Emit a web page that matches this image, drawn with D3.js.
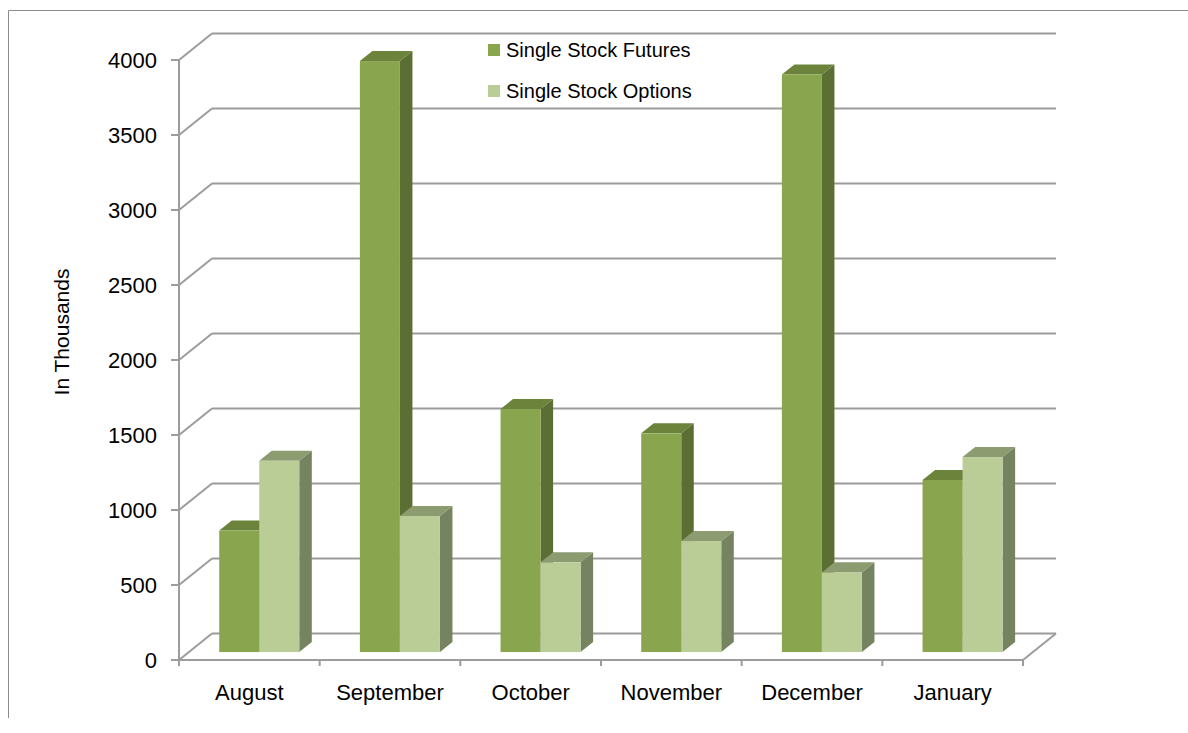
<!DOCTYPE html>
<meta charset="utf-8">
<style>
body { margin: 0; background: #fff; }
text { font-family: "Liberation Sans", Arial, sans-serif; fill: #000; }
.grid line { stroke: #9c9c9c; stroke-width: 2px; }
</style>
<svg width="1188" height="733"></svg>
<script src="https://d3js.org/d3.v7.min.js"></script>
<script>
var months = ["August", "September", "October", "November", "December", "January"];
var futures = [810, 3940, 1620, 1458, 3850, 1147];
var options = [1275, 907, 598, 740, 531, 1300];
var yTicks = [0, 500, 1000, 1500, 2000, 2500, 3000, 3500, 4000];

var svg = d3.select("svg");

// depth offset of the 3d box
var DX = 33, DY = -26.5;
var t1 = 0.3, t2 = 0.68;

var x = d3.scaleBand()
    .domain(months)
    .range([179, 1023])
    .paddingInner(0.431)
    .paddingOuter(0.2155);

var x1 = d3.scaleBand()
    .domain(["futures", "options"])
    .range([0, x.bandwidth()]);

var y = d3.scaleLinear()
    .domain([0, 4000])
    .range([660, 60]);

var colors = {
  futures: { front: "#89a54e", side: "#5b6e33", top: "#6b833b" },
  options: { front: "#bbcd97", side: "#768360", top: "#8d9b70" }
};

// outer frame
svg.append("path")
    .attr("d", "M8.5,718V10.5H1188")
    .attr("fill", "none")
    .attr("stroke", "#8c8c8c")
    .attr("stroke-width", 1);

var grid = svg.append("g").attr("class", "grid");

// back wall lines + side wall diagonals
yTicks.forEach(function(v) {
  var yy = y(v);
  grid.append("line")
      .attr("x1", 179).attr("y1", yy)
      .attr("x2", 179 + DX).attr("y2", yy + DY);
  grid.append("line")
      .attr("x1", 179 + DX).attr("y1", yy + DY)
      .attr("x2", 1023 + DX).attr("y2", yy + DY);
  grid.append("line")
      .attr("x1", 171).attr("y1", yy)
      .attr("x2", 179).attr("y2", yy);
});

// left axis
grid.append("line")
    .attr("x1", 179).attr("y1", y(4000))
    .attr("x2", 179).attr("y2", y(0) + 2);

// floor front edge + right edge
grid.append("line")
    .attr("x1", 179).attr("y1", y(0))
    .attr("x2", 1023).attr("y2", y(0));
grid.append("line")
    .attr("x1", 1023).attr("y1", y(0))
    .attr("x2", 1023 + DX).attr("y2", y(0) + DY);

// category ticks
d3.range(months.length + 1).forEach(function(i) {
  var xx = i < months.length ? x(months[i]) - x.step() * x.paddingInner() / 2 : 1023;
  if (i === 0) xx = 179;
  grid.append("line")
      .attr("x1", xx).attr("y1", y(0))
      .attr("x2", xx).attr("y2", y(0) + 6);
});

// y labels
svg.append("g").selectAll("text")
  .data(yTicks)
  .enter().append("text")
    .attr("x", 157)
    .attr("y", function(d) { return y(d) + 8; })
    .attr("text-anchor", "end")
    .style("font-size", "22px")
    .text(function(d) { return d; });

// category labels
svg.append("g").selectAll("text")
  .data(months)
  .enter().append("text")
    .attr("x", function(d) { return x(d) + x.bandwidth() / 2; })
    .attr("y", 700)
    .attr("text-anchor", "middle")
    .style("font-size", "22px")
    .text(function(d) { return d; });

svg.append("text")
    .attr("transform", "translate(69,332) rotate(-90)")
    .attr("text-anchor", "middle")
    .style("font-size", "21px")
    .text("In Thousands");

// bars
var bars = [];
months.forEach(function(m, i) {
  bars.push({ month: m, key: "futures", value: futures[i] });
  bars.push({ month: m, key: "options", value: options[i] });
});

function pt(px, py, t) { return [px + t * DX, py + t * DY]; }

var g = svg.append("g");
bars.forEach(function(d) {
  var xa = x(d.month) + x1(d.key),
      xb = xa + x1.bandwidth(),
      yt = y(d.value),
      yb = y(0),
      c = colors[d.key];
  var line = d3.line();

  g.append("path")
      .attr("d", line([pt(xb, yt, t1), pt(xb, yt, t2), pt(xb, yb, t2), pt(xb, yb, t1)]) + "Z")
      .attr("fill", c.side);
  g.append("path")
      .attr("d", line([pt(xa, yt, t1), pt(xb, yt, t1), pt(xb, yt, t2), pt(xa, yt, t2)]) + "Z")
      .attr("fill", c.top);
  var f = pt(xa, yt, t1);
  g.append("rect")
      .attr("x", f[0]).attr("y", f[1])
      .attr("width", xb - xa)
      .attr("height", yb - yt)
      .attr("fill", c.front);
});

// legend
var legend = svg.append("g");
[["Single Stock Futures", "futures"], ["Single Stock Options", "options"]].forEach(function(l, i) {
  legend.append("rect")
      .attr("x", 488).attr("y", 44 + i * 41)
      .attr("width", 12).attr("height", 12)
      .attr("fill", colors[l[1]].front);
  legend.append("text")
      .attr("x", 506).attr("y", 57 + i * 41)
      .style("font-size", "20px")
      .text(l[0]);
});
</script>
